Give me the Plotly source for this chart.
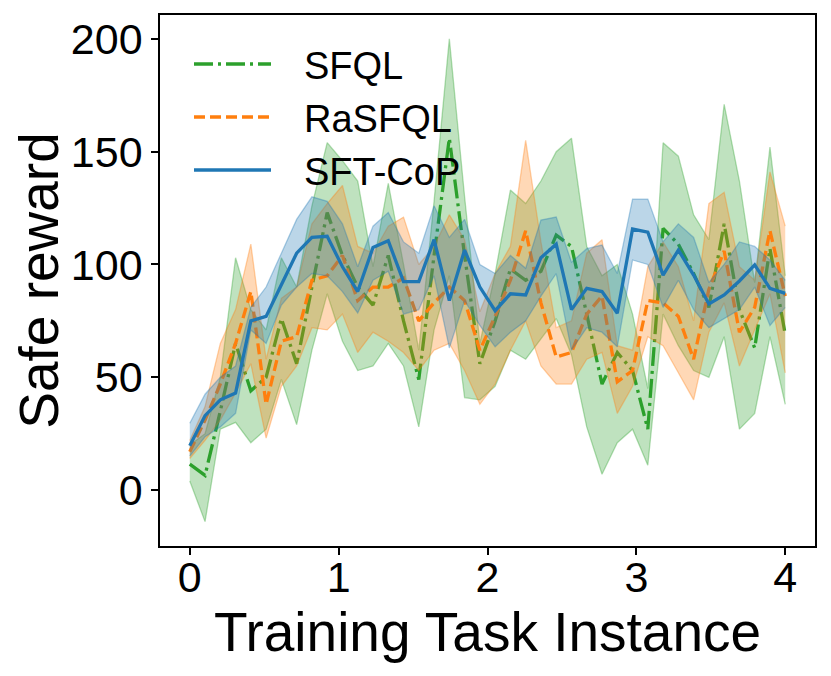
import numpy as np
import plotly.graph_objects as go

# ---- data ----
n_points = 40
x_start, x_end = 0.0, 4.0

sfql_mean = [11.5, 6.5, 35, 65, 44, 50, 76, 56, 90, 123, 104, 90, 82, 104, 75, 49, 104, 156, 104, 56,
             75, 98, 93, 97, 113, 108, 78, 47, 61, 53, 27, 116, 109, 96, 81, 118, 80, 63, 107, 69]
sfql_lower = [4, -14, 27, 30, 21, 27, 49, 29, 62, 87, 66, 53, 55, 65, 55, 28, 71, 95, 41, 40,
              46, 62, 58, 67, 76, 60, 28, 7, 21, 27, 11, 78, 64, 53, 50, 68, 27, 34, 68, 38]
sfql_upper = [20, 25, 50, 103, 80, 71, 103, 90, 126, 154, 146, 137, 99, 136, 100, 62, 128, 200, 130, 65,
              96, 133, 127, 137, 150, 156, 108, 95, 100, 78, 45, 154, 148, 122, 111, 171, 137, 92, 152, 95]

rasfql_mean = [17, 31, 47, 65, 88, 38, 66, 68, 93, 95, 104, 84, 90, 90, 94, 75, 83, 90, 84, 62,
               77, 93, 115, 83, 59, 61, 78, 86, 48, 53, 84, 83, 77, 58, 89, 106, 70, 81, 115, 86]
rasfql_lower = [14, 22, 31, 43, 56, 23, 46, 55, 72, 71, 78, 61, 70, 66, 61, 53, 62, 65, 53, 38,
                47, 62, 75, 55, 47, 47, 58, 61, 34, 46, 68, 64, 52, 40, 70, 83, 55, 71, 87, 52]
rasfql_upper = [22, 37, 65, 80, 109, 58, 85, 90, 118, 127, 135, 108, 105, 117, 121, 100, 108, 122, 111, 79,
                96, 108, 155, 110, 72, 75, 105, 111, 64, 62, 99, 110, 99, 75, 127, 132, 99, 93, 141, 117]

sftcop_mean = [19.6, 33, 40, 43, 75, 77, 91, 105, 112, 112.5, 99, 88, 107.5, 110.5, 92.4, 92.4, 111, 84, 106.4, 90,
               79.5, 87, 86.5, 103, 109, 80, 89.4, 88, 78.4, 115.7, 114.3, 95.3, 106.4, 95.3, 82.5, 86.5, 92.7, 99.8, 89.4, 87.2]
sftcop_lower = [15, 23.6, 28, 34, 71, 65, 82, 90, 96, 95, 88, 78.5, 93, 97, 78, 80, 95, 63, 84, 73,
                63.5, 70, 75, 86, 96, 62, 72, 70, 63.5, 102, 100, 81, 93, 80, 72, 76, 80, 90, 73, 81]
sftcop_upper = [29.6, 42.5, 50, 55, 81, 90, 105, 120, 130, 128, 118, 99, 117, 123, 110, 105, 126, 112, 120, 100,
                96, 104, 98.3, 119.7, 121, 101, 107, 108.6, 96, 129, 129, 110, 118, 112, 92, 100, 110, 108, 102, 93]

series_names = ["SFQL", "RaSFQL", "SFT-CoP"]
x_ticks = [0, 1, 2, 3, 4]
y_ticks = [0, 50, 100, 150, 200]

x = np.linspace(x_start, x_end, n_points)

FONT = "Liberation Sans, Arial, sans-serif"
LW = 3.3
styles = [
    dict(rgb=(44, 160, 44), dash="19px,5px,3px,5px"),
    dict(rgb=(255, 127, 14), dash="11px,5px"),
    dict(rgb=(31, 119, 180), dash="solid"),
]
data = [
    (sfql_mean, sfql_lower, sfql_upper),
    (rasfql_mean, rasfql_lower, rasfql_upper),
    (sftcop_mean, sftcop_lower, sftcop_upper),
]

fig = go.Figure()
for name, (m, lo, up), st in zip(series_names, data, styles):
    r, g, b = st["rgb"]
    edge = f"rgba({r},{g},{b},0.35)"
    fill = f"rgba({r},{g},{b},0.3)"
    fig.add_trace(go.Scatter(x=x, y=lo, mode="lines", line=dict(color=edge, width=1.3),
                             showlegend=False, hoverinfo="skip"))
    fig.add_trace(go.Scatter(x=x, y=up, mode="lines", line=dict(color=edge, width=1.3),
                             fill="tonexty", fillcolor=fill, showlegend=False, hoverinfo="skip"))
    fig.add_trace(go.Scatter(x=x, y=m, mode="lines", name=name,
                             line=dict(color=f"rgb({r},{g},{b})", width=LW, dash=st["dash"]),
                             showlegend=False))

# page geometry (the page body has an 8px margin)
PAGE_OFF = 8
W, H = 831 - PAGE_OFF, 676 - PAGE_OFF
L, R, T, B = 160, 815, 15, 546          # plot area in window pixels
def px_x(p):
    return (p - L) / (R - L)
def px_y(p):
    return (B - p) / (B - T)

# manual legend (matplotlib-like, upper left)
legend_rows = [64, 117, 170]
for name, st, yy in zip(series_names, styles, legend_rows):
    r, g, b = st["rgb"]
    fig.add_shape(type="line", xref="paper", yref="paper",
                  x0=px_x(194), x1=px_x(271), y0=px_y(yy), y1=px_y(yy),
                  line=dict(color=f"rgb({r},{g},{b})", width=LW, dash=st["dash"]))
    fig.add_annotation(xref="paper", yref="paper", x=px_x(302), y=px_y(yy + 2),
                       xanchor="left", yanchor="middle", text=name, showarrow=False,
                       font=dict(family=FONT, size=38, color="black"))

axis_common = dict(showline=True, mirror=True, linecolor="black", linewidth=1.6,
                   ticks="outside", ticklen=7, tickwidth=1.5, tickcolor="black",
                   showgrid=False, zeroline=False, automargin=False,
                   tickfont=dict(family=FONT, size=43, color="black"))

fig.update_layout(
    width=W, height=H,
    margin=dict(l=L - PAGE_OFF, r=W - (R - PAGE_OFF), t=T - PAGE_OFF, b=H - (B - PAGE_OFF)),
    paper_bgcolor="white", plot_bgcolor="white",
    xaxis=dict(range=[-0.2, 4.2], tickvals=x_ticks, ticktext=[str(v) for v in x_ticks],
               ticklabelstandoff=-14,
               title=dict(text="Training Task Instance", font=dict(family=FONT, size=55, color="black"),
                          standoff=0),
               **axis_common),
    yaxis=dict(range=[-24.8, 210.6], tickvals=y_ticks, ticktext=[str(v) for v in y_ticks],
               title=dict(text="Safe reward", font=dict(family=FONT, size=55, color="black"),
                          standoff=1),
               **axis_common),
    showlegend=False,
)

fig.write_html("out.html")
